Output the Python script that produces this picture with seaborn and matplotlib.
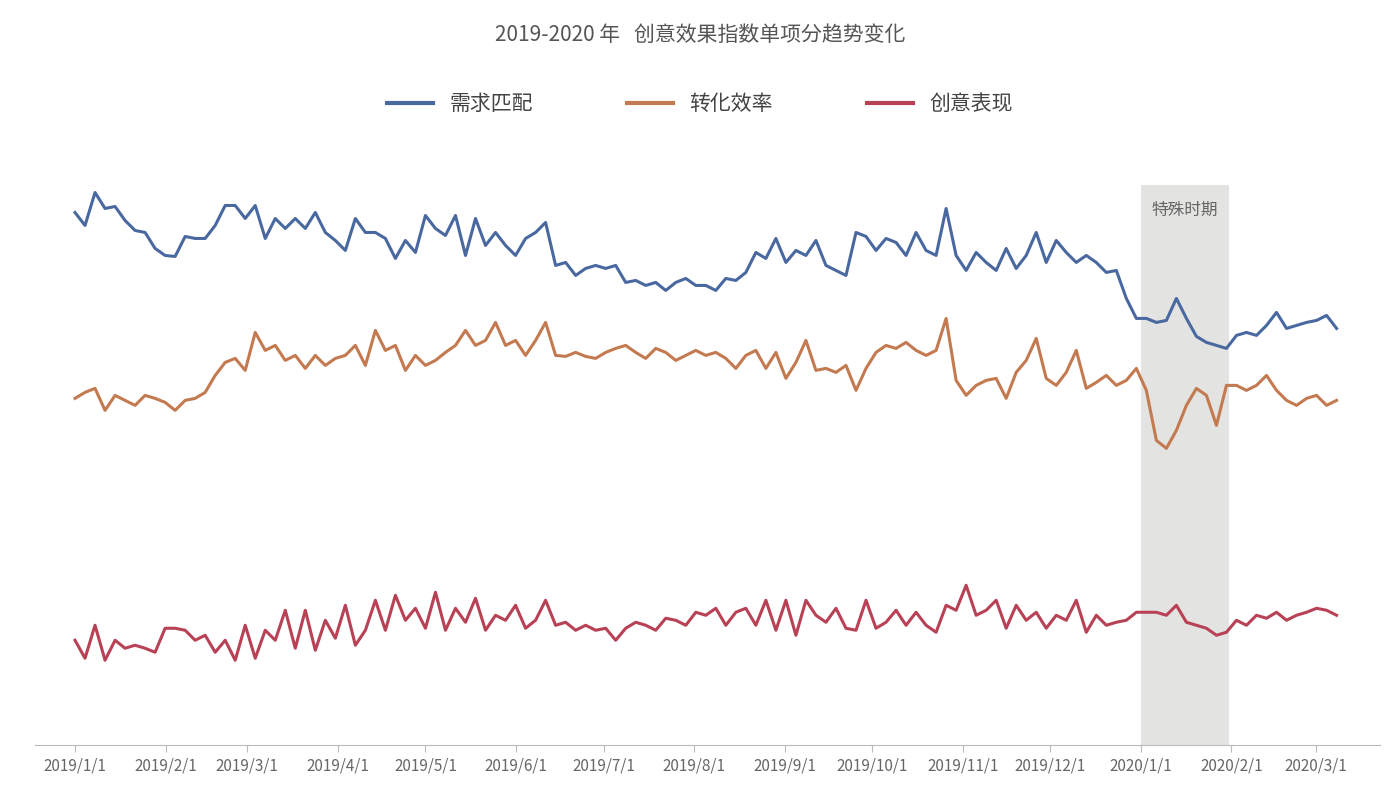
import matplotlib
matplotlib.use("Agg")
import matplotlib.pyplot as plt
import seaborn as sns
import pandas as pd
from matplotlib import font_manager

cands = ["Noto Sans CJK SC", "Noto Sans CJK JP", "Noto Sans CJK TC", "Noto Sans CJK KR"]
avail = {f.name for f in font_manager.fontManager.ttflist}
fams = [c for c in cands if c in avail]
if not fams:
    import glob
    for p in glob.glob("/usr/share/fonts/**/*CJK*", recursive=True):
        try:
            font_manager.fontManager.addfont(p)
        except Exception:
            pass
    avail = {f.name for f in font_manager.fontManager.ttflist}
    fams = [c for c in cands if c in avail] or [n for n in avail if "CJK" in n]
plt.rcParams["font.family"] = fams + ["DejaVu Sans"]

title = "2019-2020 年   创意效果指数单项分趋势变化"
series_names = ["需求匹配", "转化效率", "创意表现"]
colors = ["#4a68a0", "#c47a50", "#b84155"]
start_date, end_date = "2019-01-01", "2020-03-08"
shade_start, shade_end = "2020-01-01", "2020-01-31"
shade_label = "特殊时期"
tick_dates = pd.date_range("2019-01-01", "2020-03-01", freq="MS")
tick_labels = [f"{d.year}/{d.month}/1" for d in tick_dates]

blue_px = [212,225,192,208,206,220,230,232,248,255,256,236,238,238,225,205,205,218,205,238,218,228,218,228,212,232,240,250,218,232,232,238,258,240,252,215,228,235,215,255,218,245,232,245,255,238,232,222,265,262,275,268,265,268,265,282,280,285,282,290,282,278,285,285,290,278,280,272,252,258,238,262,250,255,240,265,270,275,232,236,250,238,242,255,232,250,255,208,255,270,252,262,270,248,268,255,232,262,240,252,262,255,262,272,270,298,318,318,322,320,298,318,336,342,345,348,335,332,335,325,312,328,325,322,320,315,328]
orange_px = [398,392,388,410,395,400,405,395,398,402,410,400,398,392,375,362,358,370,332,350,345,360,355,368,355,365,358,355,345,365,330,350,345,370,355,365,360,352,345,330,345,340,322,345,340,355,340,322,355,356,352,356,358,352,348,345,352,358,348,352,360,355,350,355,352,358,368,355,350,368,352,378,362,340,370,368,372,365,390,368,352,345,348,342,350,355,350,318,380,395,385,380,378,398,372,360,338,378,385,372,350,388,382,375,385,380,368,390,440,448,430,405,388,395,425,385,385,390,385,375,390,400,405,398,395,405,400]
red_px = [640,658,625,660,640,648,645,648,652,628,628,630,640,635,652,640,660,625,658,630,640,610,648,610,650,620,638,605,645,630,600,630,595,620,608,628,592,630,608,622,598,630,615,620,605,628,620,600,625,622,630,625,630,628,640,628,622,625,630,618,620,625,612,615,608,625,612,608,625,600,630,600,635,600,615,622,608,628,630,600,628,622,610,625,612,625,632,605,610,585,615,610,600,628,605,620,612,628,615,620,600,632,615,625,622,620,612,612,612,615,605,622,625,628,635,632,620,625,615,618,612,620,615,612,608,610,615]

baseline = 745
frames = []
for name, px in zip(series_names, [blue_px, orange_px, red_px]):
    dates = pd.date_range(start_date, end_date, periods=len(px))
    frames.append(pd.DataFrame({"date": dates, "value": [baseline - p for p in px], "series": name}))
df = pd.concat(frames)

fig = plt.figure(figsize=(14, 8.1), dpi=100)
ax = fig.add_axes([0.025, 0.080, 0.961, 0.691])
ax.axvspan(pd.Timestamp(shade_start), pd.Timestamp(shade_end), ymin=0, ymax=1, color="#e3e3e1", zorder=0, lw=0)
sns.lineplot(data=df, x="date", y="value", hue="series", palette=colors, linewidth=2.2, ax=ax, legend=False)
ax.set_ylim(0, 560)
ax.set_xlim(pd.Timestamp("2019-01-01") - pd.Timedelta(days=13.7), pd.Timestamp("2019-01-01") + pd.Timedelta(days=447))
for s in ["top", "left", "right"]:
    ax.spines[s].set_visible(False)
ax.spines["bottom"].set_color("#bbbbbb")
ax.set_yticks([])
ax.set_xticks(tick_dates)
ax.set_xticklabels(tick_labels, fontsize=11, color="#666666")
ax.tick_params(axis="x", length=5, color="#bbbbbb")
ax.set_xlabel(""); ax.set_ylabel("")
mid = pd.Timestamp(shade_start) + (pd.Timestamp(shade_end) - pd.Timestamp(shade_start)) / 2
ax.text(mid, 535, shade_label, ha="center", va="center", fontsize=12, color="#666666")

fig.text(0.5, 1 - 35 / 810, title, ha="center", va="center", fontsize=15, color="#555555")
from matplotlib.lines import Line2D
handles = [Line2D([0], [0], color=c, lw=3) for c in colors]
fig.legend(handles, series_names, loc="center", bbox_to_anchor=(0.5, 1 - 104 / 810), ncol=3,
           frameon=False, fontsize=15, handlelength=2.2, columnspacing=4.5, labelcolor="#444444")
fig.savefig("out.png", dpi=100)
